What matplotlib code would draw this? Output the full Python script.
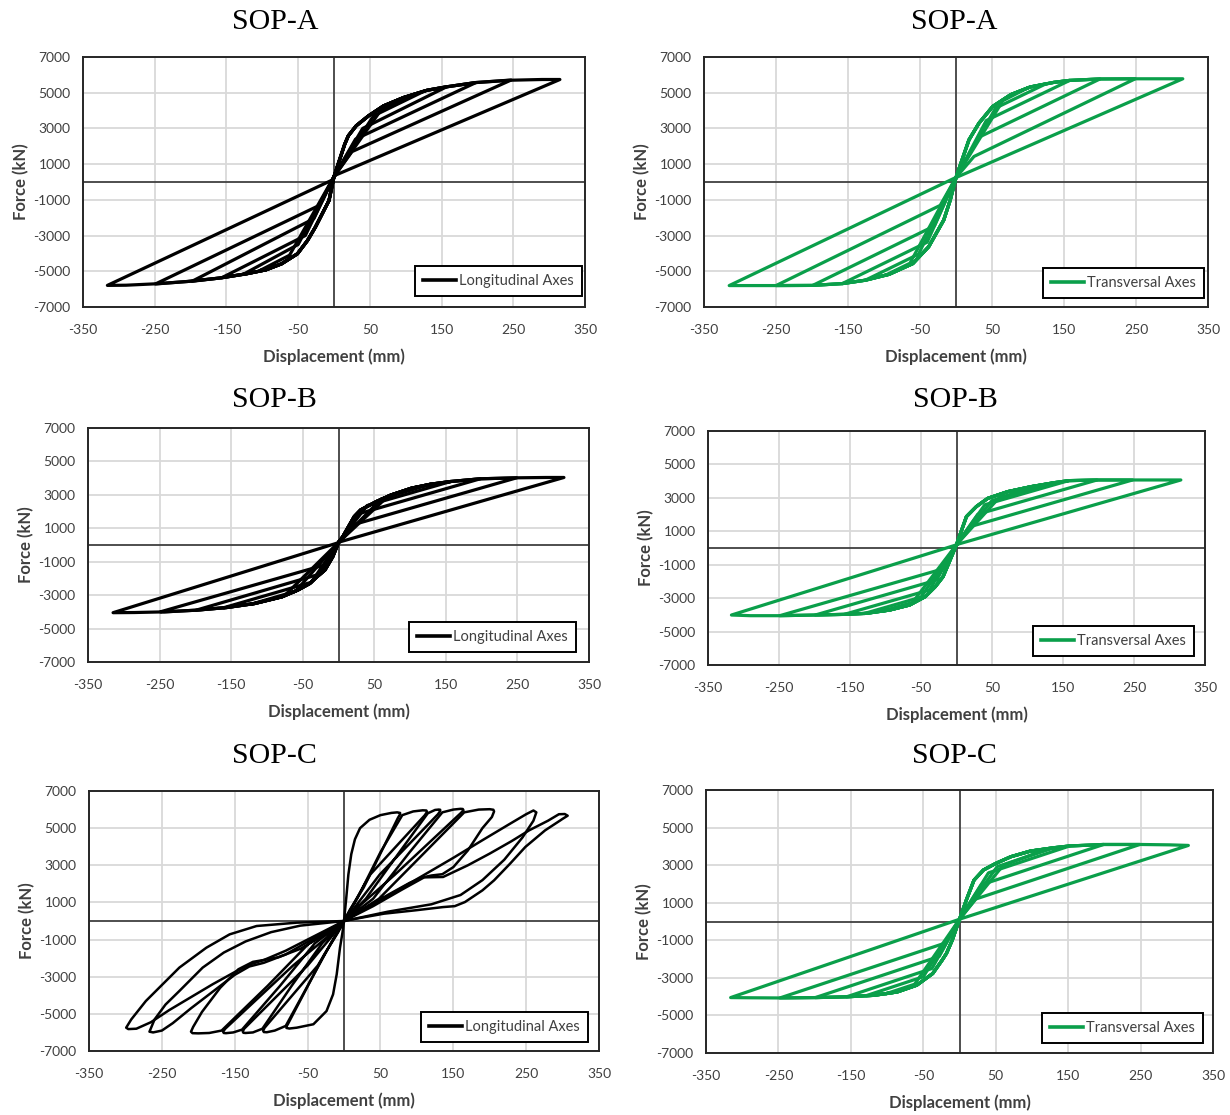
import matplotlib
matplotlib.use("Agg")
import matplotlib.pyplot as plt

plt.rcParams["axes.unicode_minus"] = False

W, H = 1230, 1115
GREEN = "#0a9f4a"
TXT = "#404040"

# ---------------- data ----------------
# For the A/B panels and SOP-C transversal every cycle is: backbone up to the peak,
# straight unloading chord down to the steep branch, back to the pinch point.

# SOP-A longitudinal
A_LONG_AMP_POS = [102, 127, 157, 198, 247, 315]
A_LONG_F_POS = [4770, 5110, 5330, 5570, 5710, 5740]
A_LONG_END_POS_D = [65, 55, 40, 30, 25, 3]
A_LONG_END_POS_F = [4000, 3700, 3000, 2400, 1700, 400]
A_LONG_AMP_NEG = [-103, -127, -157, -198, -249, -316]
A_LONG_F_NEG = [-4950, -5180, -5370, -5560, -5710, -5790]
A_LONG_END_NEG_D = [-62, -50, -40, -28, -20, -3]
A_LONG_END_NEG_F = [-4100, -3500, -3000, -2050, -1300, 100]
A_LONG_BB_POS_D = [15, 20, 31, 48, 69, 97, 130, 157, 198, 247, 290]
A_LONG_BB_POS_F = [2120, 2590, 3150, 3700, 4260, 4730, 5140, 5330, 5570, 5700, 5740]
A_LONG_BB_NEG_D = [-7, -26, -37, -51, -73, -95, -122, -160, -204, -248, -290]
A_LONG_BB_NEG_F = [-1040, -2530, -3280, -4020, -4580, -4920, -5140, -5380, -5570, -5700, -5780]
A_LONG_PINCH = (0, 300)

# SOP-A transversal
A_TRA_AMP_POS = [100, 125, 158, 200, 249, 315]
A_TRA_F_POS = [5280, 5500, 5690, 5770, 5780, 5780]
A_TRA_END_POS_D = [65, 55, 42, 32, 25, 3]
A_TRA_END_POS_F = [4550, 4140, 3440, 2510, 1430, 300]
A_TRA_AMP_NEG = [-98, -126, -158, -199, -250, -315]
A_TRA_F_NEG = [-5220, -5500, -5690, -5790, -5800, -5800]
A_TRA_END_NEG_D = [-64, -52, -40, -30, -22, -3]
A_TRA_END_NEG_F = [-4550, -4040, -3370, -2460, -1310, 200]
A_TRA_BB_POS_D = [18, 32, 51, 76, 103, 136, 158, 200, 250, 290]
A_TRA_BB_POS_F = [2360, 3300, 4230, 4890, 5320, 5580, 5690, 5770, 5780, 5780]
A_TRA_BB_NEG_D = [-8, -17, -38, -60, -93, -126, -158, -199, -250, -290]
A_TRA_BB_NEG_F = [-1010, -2130, -3630, -4570, -5170, -5500, -5690, -5790, -5800, -5800]
A_TRA_PINCH = (0, 250)

# SOP-B longitudinal
B_LONG_AMP_POS = [113, 129, 157, 198, 249, 315]
B_LONG_F_POS = [3500, 3640, 3800, 3960, 4020, 4040]
B_LONG_END_POS_D = [70, 60, 40, 30, 22, 3]
B_LONG_END_POS_F = [2950, 2760, 2360, 1890, 1230, 200]
B_LONG_AMP_NEG = [-95, -123, -161, -199, -249, -315]
B_LONG_F_NEG = [-3250, -3550, -3760, -3900, -4000, -4050]
B_LONG_END_NEG_D = [-75, -60, -38, -27, -20, -3]
B_LONG_END_NEG_F = [-3010, -2770, -2230, -1750, -1200, 100]
B_LONG_BB_POS_D = [6, 22, 31, 53, 74, 102, 129, 157, 198, 249, 290]
B_LONG_BB_POS_F = [500, 1700, 2100, 2600, 3000, 3400, 3640, 3800, 3960, 4020, 4040]
B_LONG_BB_NEG_D = [-8, -19, -30, -40, -57, -79, -117, -156, -199, -243, -285]
B_LONG_BB_NEG_F = [-700, -1500, -1900, -2300, -2700, -3100, -3500, -3740, -3900, -4000, -4040]
B_LONG_PINCH = (0, 150)

# SOP-B transversal
B_TRA_AMP_POS = [125, 138, 158, 198, 248, 316]
B_TRA_F_POS = [3800, 3910, 4030, 4070, 4070, 4070]
B_TRA_END_POS_D = [60, 50, 40, 30, 22, 3]
B_TRA_END_POS_F = [3010, 2840, 2590, 2020, 1310, 240]
B_TRA_AMP_NEG = [-105, -130, -158, -199, -249, -317]
B_TRA_F_NEG = [-3780, -3920, -3970, -4010, -4050, -4010]
B_TRA_END_NEG_D = [-62, -50, -38, -28, -20, -3]
B_TRA_END_NEG_F = [-3260, -2940, -2510, -1920, -1260, 150]
B_TRA_BB_POS_D = [14, 28, 44, 72, 105, 138, 158, 199, 250, 290]
B_TRA_BB_POS_F = [1880, 2480, 2970, 3370, 3670, 3910, 4030, 4070, 4070, 4070]
B_TRA_BB_NEG_D = [-11, -19, -30, -44, -66, -94, -127, -158, -199, -250, -290]
B_TRA_BB_NEG_F = [-920, -1720, -2320, -2910, -3410, -3710, -3910, -3970, -4010, -4050, -4050]
B_TRA_PINCH = (0, 200)

# SOP-C transversal
C_TRA_AMP_POS = [120, 131, 152, 199, 249, 316]
C_TRA_F_POS = [3850, 3930, 4020, 4100, 4100, 4050]
C_TRA_END_POS_D = [60, 52, 40, 30, 22, 3]
C_TRA_END_POS_F = [2980, 2920, 2590, 1950, 1190, 160]
C_TRA_AMP_NEG = [-102, -129, -156, -199, -248, -316]
C_TRA_F_NEG = [-3850, -3950, -4010, -4050, -4070, -4050]
C_TRA_END_NEG_D = [-62, -50, -38, -28, -20, -3]
C_TRA_END_NEG_F = [-3340, -2940, -2500, -1860, -1150, 80]
C_TRA_BB_POS_D = [10, 20, 33, 50, 71, 98, 131, 152, 199, 250, 290]
C_TRA_BB_POS_F = [1200, 2200, 2740, 3090, 3450, 3750, 3930, 4020, 4100, 4100, 4080]
C_TRA_BB_NEG_D = [-10, -18, -24, -37, -59, -86, -118, -156, -199, -248, -290]
C_TRA_BB_NEG_F = [-990, -1700, -2060, -2770, -3390, -3750, -3930, -4010, -4050, -4070, -4060]
C_TRA_PINCH = (0, 120)

# SOP-C longitudinal: each leaf traced as a closed path from the origin
C_LONG_POS_D = [
    [0, 3, 6, 10, 15, 22, 35, 50, 65, 73, 77, 77, 74, 27, 8, 0],
    [0, 18, 50, 80, 95, 108, 113, 114, 111, 36, 10, 0],
    [0, 30, 76, 115, 125, 130, 132, 132, 129, 49, 14, 0],
    [0, 40, 90, 135, 150, 160, 163, 164, 160, 70, 18, 0],
    [0, 48, 111, 165, 185, 200, 205, 206,
     203, 190, 170, 150, 135, 120, 106, 90, 60, 30, 0],
    [0, 40, 80, 109, 150, 190, 228, 250, 260, 264,
     260, 245, 220, 190, 160, 120, 60, 0],
    [0, 40, 80, 110, 136, 170, 200, 230, 254, 280, 295, 303, 307,
     300, 297, 276, 249, 228, 206, 190, 166, 152, 136, 98, 55, 20, 0],
]
C_LONG_POS_F = [
    [0, 1200, 2500, 3600, 4400, 5000, 5450, 5700, 5820, 5850, 5820, 5750, 5550, 1800, 600, 0],
    [0, 1200, 3700, 5700, 5900, 5960, 5950, 5880, 5700, 2500, 700, 0],
    [0, 1200, 3700, 5800, 5980, 6000, 5990, 5920, 5750, 2500, 700, 0],
    [0, 1200, 3700, 5850, 6000, 6040, 6030, 5960, 5800, 2500, 700, 0],
    [0, 1200, 3700, 5850, 6000, 6020, 5990, 5900,
     5600, 5000, 3800, 2900, 2520, 2450, 2330, 2050, 1400, 700, 0],
    [0, 900, 1800, 2460, 3400, 4350, 5240, 5750, 5950, 5850,
     5400, 4500, 3300, 2200, 1400, 900, 500, 0],
    [0, 800, 1700, 2350, 2370, 3000, 3630, 4300, 4880, 5400, 5750, 5760, 5670,
     5500, 5420, 4880, 3990, 3090, 2190, 1650, 1020, 800, 750, 575, 395, 150, 0],
]
C_LONG_NEG_D = [
    [0, -2, -5.5, -10, -15, -24, -42, -65, -75, -79, -79, -77, -27, -8, 0],
    [0, -18, -50, -80, -95, -106, -110, -111, -109, -36, -10, 0],
    [0, -30, -72, -112, -125, -135, -138, -139, -137, -50, -14, 0],
    [0, -40, -88, -140, -152, -162, -165, -166, -163, -70, -18, 0],
    [0, -48, -105, -168, -185, -200, -208, -210,
     -207, -195, -170, -145, -125, -110, -90, -60, -25, 0],
    [0, -40, -80, -110, -130, -150, -180, -210, -235, -250, -262, -267,
     -260, -245, -226, -194, -165, -135, -100, -60, 0],
    [0, -40, -80, -110, -130, -150, -180, -210, -240, -265, -285, -296, -299,
     -292, -272, -226, -189, -157, -120, -65, 0],
]
C_LONG_NEG_F = [
    [0, -600, -1440, -2870, -3950, -4850, -5560, -5745, -5790, -5760, -5680, -5550, -1800, -600, 0],
    [0, -1200, -3500, -5650, -5900, -5990, -5980, -5910, -5750, -2400, -700, 0],
    [0, -1200, -3500, -5800, -6000, -6030, -6020, -5950, -5800, -2400, -700, 0],
    [0, -1200, -3500, -5850, -6000, -6040, -6030, -5960, -5800, -2400, -700, 0],
    [0, -1200, -3500, -5900, -6030, -6050, -6040, -5960,
     -5700, -4900, -3600, -2600, -2200, -2100, -1950, -1500, -700, 0],
    [0, -900, -1800, -2250, -2450, -2900, -3800, -4700, -5500, -5900, -6000, -5960,
     -5300, -4500, -3770, -2510, -1700, -1100, -600, -250, 0],
    [0, -800, -1600, -2100, -2350, -2750, -3400, -4100, -4800, -5450, -5800, -5820, -5745,
     -5300, -4310, -2510, -1440, -720, -270, -90, 0],
]

X_TICKS = list(range(-350, 351, 100))
Y_TICKS = list(range(-7000, 7001, 2000))


def backbone_loops(amp_pos, f_pos, end_pos_d, end_pos_f,
                   amp_neg, f_neg, end_neg_d, end_neg_f,
                   bbp_d, bbp_f, bbn_d, bbn_f, pinch):
    loops = []
    for i in range(len(amp_pos)):
        d, f = [pinch[0]], [pinch[1]]
        for x, y in zip(bbp_d, bbp_f):
            if x < amp_pos[i] - 3:
                d.append(x)
                f.append(y)
        d += [amp_pos[i], end_pos_d[i], pinch[0]]
        f += [f_pos[i], end_pos_f[i], pinch[1]]
        for x, y in zip(bbn_d, bbn_f):
            if x > amp_neg[i] + 3:
                d.append(x)
                f.append(y)
        d += [amp_neg[i], end_neg_d[i], pinch[0]]
        f += [f_neg[i], end_neg_f[i], pinch[1]]
        loops.append((d, f))
    return loops


def make_ax(fig, l, r, t, b):
    return fig.add_axes([l / W, 1 - b / H, (r - l) / W, (b - t) / H])


def style_ax(ax):
    ax.set_xlim(-350, 350)
    ax.set_ylim(-7000, 7000)
    ax.set_xticks(X_TICKS)
    ax.set_yticks(Y_TICKS)
    ax.grid(True, color="#d9d9d9", lw=1.3, zorder=0)
    ax.set_axisbelow(True)
    ax.axhline(0, color="#404040", lw=1.3, zorder=1)
    ax.axvline(0, color="#404040", lw=1.3, zorder=1)
    ax.tick_params(length=0, labelsize=10, labelcolor=TXT)
    ax.tick_params(axis="x", pad=12)
    ax.tick_params(axis="y", pad=9)
    for lab in ax.get_xticklabels() + ax.get_yticklabels():
        lab.set_family("Lato")
    for s in ax.spines.values():
        s.set_color("#262626")
        s.set_linewidth(1.4)
    ax.set_xlabel("Displacement (mm)", fontsize=12, fontweight="bold",
                  color=TXT, family="Lato", labelpad=9)
    ax.set_ylabel("Force (kN)", fontsize=12, fontweight="bold",
                  color=TXT, family="Lato", labelpad=3)


def add_legend(ax, box, frame, label, color):
    l, r, t, b = box
    al, ar, at, ab = frame
    leg = ax.legend([plt.Line2D([], [], color=color, lw=2.6)], [label],
                    loc="lower right",
                    bbox_to_anchor=((r - al) / (ar - al), (ab - b) / (ab - at)),
                    borderaxespad=0, fancybox=False, framealpha=1,
                    edgecolor="black", handlelength=2.3, handletextpad=0.2,
                    borderpad=0.55, prop={"family": "Lato", "size": 10.5})
    leg.get_frame().set_linewidth(1.4)
    for txt in leg.get_texts():
        txt.set_color(TXT)


fig = plt.figure(figsize=(W / 100, H / 100), dpi=100)

panels = [
    # title, title pos, frame (l, r, t, b), legend box, label, color, loops, lw
    ("SOP-A", (275, 22), (83, 585, 57, 307), (410, 582, 264, 296),
     "Longitudinal Axes", "black",
     backbone_loops(A_LONG_AMP_POS, A_LONG_F_POS, A_LONG_END_POS_D, A_LONG_END_POS_F,
                    A_LONG_AMP_NEG, A_LONG_F_NEG, A_LONG_END_NEG_D, A_LONG_END_NEG_F,
                    A_LONG_BB_POS_D, A_LONG_BB_POS_F, A_LONG_BB_NEG_D, A_LONG_BB_NEG_F,
                    A_LONG_PINCH), 2.3),
    ("SOP-A", (954, 22), (704, 1208, 57, 307), (1046, 1204, 267, 298),
     "Transversal Axes", GREEN,
     backbone_loops(A_TRA_AMP_POS, A_TRA_F_POS, A_TRA_END_POS_D, A_TRA_END_POS_F,
                    A_TRA_AMP_NEG, A_TRA_F_NEG, A_TRA_END_NEG_D, A_TRA_END_NEG_F,
                    A_TRA_BB_POS_D, A_TRA_BB_POS_F, A_TRA_BB_NEG_D, A_TRA_BB_NEG_F,
                    A_TRA_PINCH), 2.3),
    ("SOP-B", (274, 400), (88, 589, 428, 662), (414, 576, 622, 652),
     "Longitudinal Axes", "black",
     backbone_loops(B_LONG_AMP_POS, B_LONG_F_POS, B_LONG_END_POS_D, B_LONG_END_POS_F,
                    B_LONG_AMP_NEG, B_LONG_F_NEG, B_LONG_END_NEG_D, B_LONG_END_NEG_F,
                    B_LONG_BB_POS_D, B_LONG_BB_POS_F, B_LONG_BB_NEG_D, B_LONG_BB_NEG_F,
                    B_LONG_PINCH), 2.3),
    ("SOP-B", (955, 400), (708, 1205, 431, 665), (1035, 1194, 626, 656),
     "Transversal Axes", GREEN,
     backbone_loops(B_TRA_AMP_POS, B_TRA_F_POS, B_TRA_END_POS_D, B_TRA_END_POS_F,
                    B_TRA_AMP_NEG, B_TRA_F_NEG, B_TRA_END_NEG_D, B_TRA_END_NEG_F,
                    B_TRA_BB_POS_D, B_TRA_BB_POS_F, B_TRA_BB_NEG_D, B_TRA_BB_NEG_F,
                    B_TRA_PINCH), 2.3),
    ("SOP-C", (274, 756), (89, 599, 791, 1051), (408, 588, 1013, 1042),
     "Longitudinal Axes", "black",
     list(zip(C_LONG_POS_D, C_LONG_POS_F)) + list(zip(C_LONG_NEG_D, C_LONG_NEG_F)), 1.8),
    ("SOP-C", (954, 756), (706, 1213, 790, 1053), (1041, 1203, 1009, 1043),
     "Transversal Axes", GREEN,
     backbone_loops(C_TRA_AMP_POS, C_TRA_F_POS, C_TRA_END_POS_D, C_TRA_END_POS_F,
                    C_TRA_AMP_NEG, C_TRA_F_NEG, C_TRA_END_NEG_D, C_TRA_END_NEG_F,
                    C_TRA_BB_POS_D, C_TRA_BB_POS_F, C_TRA_BB_NEG_D, C_TRA_BB_NEG_F,
                    C_TRA_PINCH), 2.3),
]

for title, tpos, frame, box, label, color, loops, lw in panels:
    ax = make_ax(fig, *frame)
    style_ax(ax)
    for d, f in loops:
        ax.plot(d, f, color=color, lw=lw, solid_joinstyle="round", zorder=3)
    add_legend(ax, box, frame, label, color)
    fig.text(tpos[0] / W, 1 - tpos[1] / H, title, ha="center", va="center",
             fontsize=21.5, family="Liberation Serif")

fig.savefig("out.png", dpi=100)
